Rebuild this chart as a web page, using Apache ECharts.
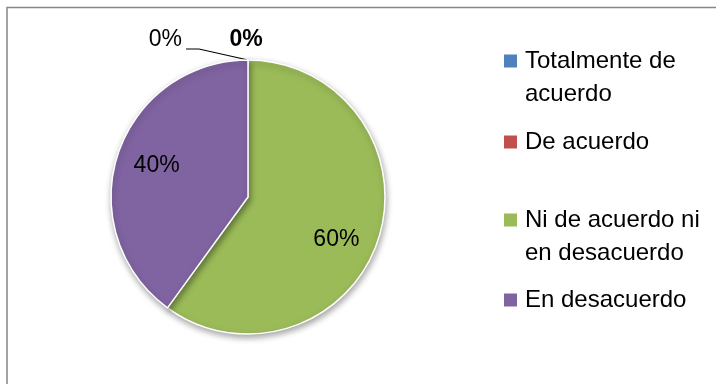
<!DOCTYPE html>
<html>
<head>
<meta charset="utf-8">
<script src="https://cdn.jsdelivr.net/npm/echarts@6/dist/echarts.min.js"></script>
<style>
  html, body { margin: 0; padding: 0; background: #fff; }
  #chart { width: 716px; height: 384px; }
</style>
</head>
<body>
<div id="chart"></div>
<script>
// Survey answers and their shares
const categories = ['Totalmente de acuerdo', 'De acuerdo', 'Ni de acuerdo ni en desacuerdo', 'En desacuerdo'];
const values = [0, 0, 60, 40];
const legendText = ['Totalmente de\nacuerdo', 'De acuerdo', 'Ni de acuerdo ni\nen desacuerdo', 'En desacuerdo'];
const colors = ['#4F81BD', '#C0504D', '#9BBB59', '#8064A2'];

const FONT = 'Liberation Sans';
const PIE_CENTER = [248, 197];
const PIE_RADIUS = 137;
const LINE_H = 33;

// one legend block per answer; a leading blank line keeps the swatch level
// with the first line of a two-line entry
const legendTops = [11.5, 125.5, 170.5, 283.5];
const legends = categories.map(function (name, i) {
  const twoLines = legendText[i].indexOf('\n') >= 0;
  return {
    data: [name],
    orient: 'vertical',
    left: 504,
    top: legendTops[i],
    padding: 0,
    itemWidth: 13,
    itemHeight: 13,
    icon: 'rect',
    selectedMode: false,
    itemStyle: {
      borderWidth: 0,
      shadowBlur: 0,
      shadowOffsetX: 0,
      shadowOffsetY: 0,
      shadowColor: 'rgba(0,0,0,0)'
    },
    formatter: function () { return (twoLines ? '\n' : '') + legendText[i]; },
    textStyle: {
      fontFamily: FONT,
      fontSize: 24,
      color: '#000',
      lineHeight: LINE_H,
      padding: [0, 0, 0, 3]
    }
  };
});

const pieData = categories.map(function (name, i) {
  return {
    name: name,
    value: values[i],
    itemStyle: { color: colors[i] },
    label: { show: values[i] === 0, fontWeight: i === 1 ? 'bold' : 'normal' },
    labelLine: { show: values[i] === 0 }
  };
});

const insideData = categories.map(function (name, i) {
  return {
    name: name,
    value: values[i],
    label: { show: values[i] > 0 }
  };
});

// small nudges for the percentage labels inside the slices
const insideNudge = { 2: [-7, 12], 3: [4, 0] };

const chart = echarts.init(document.getElementById('chart'), null, { renderer: 'canvas' });
chart.setOption({
  animation: false,
  backgroundColor: '#fff',
  color: colors,
  legend: legends,
  graphic: [{
    type: 'rect',
    shape: { x: 7, y: 7.5, width: 800, height: 500 },
    style: { fill: 'none', stroke: '#878787', lineWidth: 1.5 },
    silent: true,
    z: -1
  }],
  series: [
    {
      type: 'pie',
      center: PIE_CENTER,
      radius: PIE_RADIUS,
      startAngle: 90,
      clockwise: true,
      avoidLabelOverlap: false,
      silent: true,
      data: pieData,
      itemStyle: {
        borderColor: '#fff',
        borderWidth: 1.5,
        shadowBlur: 6,
        shadowOffsetX: 1,
        shadowOffsetY: 3,
        shadowColor: 'rgba(0,0,0,0.35)'
      },
      label: {
        position: 'outside',
        formatter: '{d}%',
        fontFamily: FONT,
        fontSize: 23,
        color: '#000'
      },
      labelLine: {
        length: 15,
        length2: 15,
        lineStyle: { color: '#000', width: 1.2 }
      },
      labelLayout: function (p) {
        const pts = p.labelLinePoints;
        if (!pts) return {};
        const a = pts[0];
        if (p.dataIndex === 0) {
          return {
            x: a[0] - 66, y: a[1] - 20, align: 'right', verticalAlign: 'middle',
            labelLinePoints: [a, [a[0] - 49, a[1] - 11], [a[0] - 62, a[1] - 11]]
          };
        }
        return {
          x: a[0] - 2, y: a[1] - 20, align: 'center', verticalAlign: 'middle',
          labelLinePoints: [a, a, a]
        };
      },
      emphasis: { disabled: true }
    },
    {
      // transparent twin ring: places the percentage labels further out inside the slices
      type: 'pie',
      center: PIE_CENTER,
      radius: PIE_RADIUS * 1.42,
      startAngle: 90,
      clockwise: true,
      silent: true,
      data: insideData,
      itemStyle: { color: 'rgba(0,0,0,0)' },
      label: {
        position: 'inside',
        formatter: '{d}%',
        fontFamily: FONT,
        fontSize: 23,
        color: '#000'
      },
      labelLine: { show: false },
      labelLayout: function (p) {
        const n = insideNudge[p.dataIndex];
        return n ? { dx: n[0], dy: n[1] } : {};
      },
      emphasis: { disabled: true }
    }
  ]
});
</script>
</body>
</html>
